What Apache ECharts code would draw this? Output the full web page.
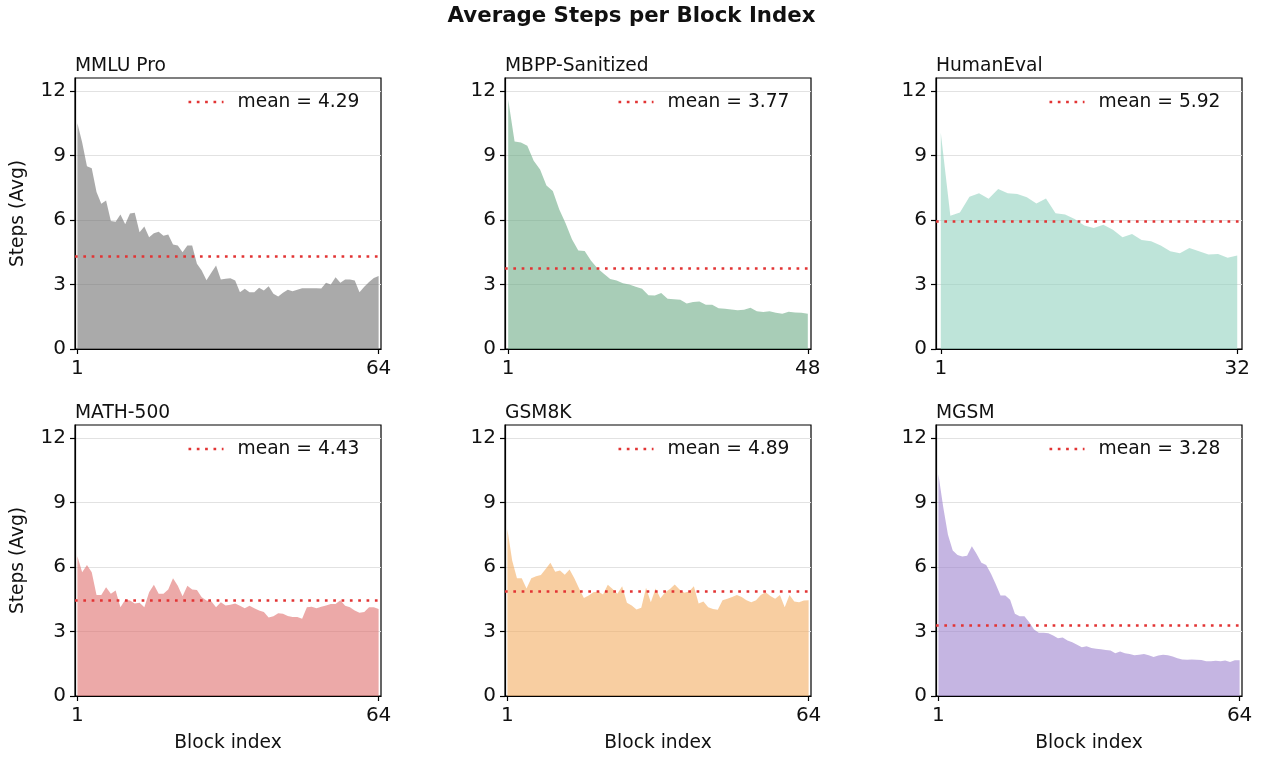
<!DOCTYPE html>
<html>
<head>
<meta charset="utf-8">
<script src="https://cdn.jsdelivr.net/npm/echarts@6/dist/echarts.min.js"></script>
<style>
  html, body { margin: 0; padding: 0; background: #ffffff; }
  #chart { width: 1263px; height: 758px; }
</style>
</head>
<body>
<div id="chart"></div>
<script>
// Average decoding steps for each block, one list per benchmark
const panelTitles = ['MMLU Pro', 'MBPP-Sanitized', 'HumanEval', 'MATH-500', 'GSM8K', 'MGSM'];
const meanValues = [4.29, 3.77, 5.92, 4.43, 4.89, 3.28];
const yTickValues = [0, 3, 6, 9, 12];

const mmluPro = [
  10.5, 9.6, 8.5, 8.4, 7.3, 6.75, 6.9, 5.95, 5.92, 6.25, 5.8, 6.3, 6.34, 5.43, 5.7, 5.19,
  5.38, 5.45, 5.26, 5.32, 4.86, 4.81, 4.5, 4.81, 4.81, 3.96, 3.65, 3.2, 3.55, 3.88, 3.23, 3.27,
  3.29, 3.19, 2.64, 2.8, 2.64, 2.64, 2.85, 2.72, 2.92, 2.57, 2.44, 2.62, 2.75, 2.69, 2.75, 2.83,
  2.83, 2.83, 2.82, 2.81, 3.08, 3.0, 3.34, 3.08, 3.23, 3.23, 3.19, 2.64, 2.9, 3.11, 3.3, 3.39
];
const mbppSanitized = [
  11.6, 9.65, 9.6, 9.45, 8.75, 8.35, 7.6, 7.35, 6.5, 5.85, 5.1, 4.58, 4.56, 4.1, 3.75, 3.5,
  3.25, 3.19, 3.06, 3.0, 2.9, 2.8, 2.5, 2.49, 2.6, 2.34, 2.31, 2.29, 2.11, 2.18, 2.21, 2.06,
  2.06, 1.89, 1.87, 1.84, 1.8, 1.83, 1.92, 1.75, 1.72, 1.75, 1.69, 1.64, 1.73, 1.7, 1.69, 1.64
];
const humanEval = [
  10.05, 6.2, 6.35, 7.08, 7.24, 6.98, 7.44, 7.24, 7.21, 7.05, 6.77, 7.0, 6.31, 6.25, 6.05, 5.74,
  5.63, 5.78, 5.55, 5.19, 5.35, 5.07, 5.01, 4.81, 4.55, 4.45, 4.7, 4.55, 4.39, 4.42, 4.24, 4.35
];
const math500 = [
  6.5, 5.75, 6.09, 5.75, 4.7, 4.7, 5.06, 4.75, 4.9, 4.13, 4.48, 4.44, 4.3, 4.33, 4.13, 4.82,
  5.17, 4.75, 4.75, 4.95, 5.47, 5.13, 4.64, 5.13, 4.95, 4.93, 4.59, 4.44, 4.41, 4.13, 4.36, 4.21,
  4.24, 4.3, 4.2, 4.08, 4.2, 4.08, 3.97, 3.9, 3.65, 3.71, 3.85, 3.82, 3.72, 3.67, 3.67, 3.59,
  4.13, 4.15, 4.08, 4.15, 4.21, 4.28, 4.28, 4.45, 4.2, 4.13, 3.97, 3.87, 3.9, 4.13, 4.13, 4.05
];
const gsm8k = [
  7.75, 6.3, 5.47, 5.47, 5.0, 5.47, 5.57, 5.63, 5.9, 6.19, 5.78, 5.83, 5.64, 5.88, 5.47, 5.0,
  4.56, 4.67, 4.82, 4.86, 4.72, 5.17, 4.98, 4.75, 5.1, 4.33, 4.21, 4.02, 4.1, 5.03, 4.36, 5.0,
  4.55, 4.82, 4.98, 5.18, 4.95, 4.8, 4.86, 5.1, 4.3, 4.39, 4.13, 4.05, 4.01, 4.45, 4.52, 4.6,
  4.7, 4.6, 4.45, 4.36, 4.45, 4.7, 4.82, 4.65, 4.52, 4.7, 4.13, 4.7, 4.39, 4.36, 4.44, 4.45
];
const mgsm = [
  10.31, 8.8, 7.5, 6.76, 6.56, 6.49, 6.52, 6.96, 6.6, 6.19, 6.09, 5.68, 5.2, 4.67, 4.67, 4.48,
  3.82, 3.71, 3.71, 3.43, 3.09, 2.94, 2.94, 2.92, 2.81, 2.69, 2.72, 2.58, 2.5, 2.38, 2.27, 2.31,
  2.23, 2.2, 2.17, 2.14, 2.12, 1.99, 2.07, 1.99, 1.95, 1.9, 1.92, 1.95, 1.89, 1.81, 1.88, 1.92,
  1.89, 1.84, 1.75, 1.7, 1.69, 1.7, 1.68, 1.67, 1.62, 1.62, 1.64, 1.61, 1.65, 1.58, 1.66, 1.66
];
const panelValues = [mmluPro, mbppSanitized, humanEval, math500, gsm8k, mgsm];

// Styling
const fillColors = ['#717171', '#6eac87', '#93d2c0', '#df706e', '#f3ad62', '#9e84cf'];
const fillOpacity = 0.6;
const meanColor = '#e23434';
const textColor = '#111111';
const fontFamily = "'DejaVu Sans', 'Liberation Sans', sans-serif";
const baseFont = 18.67;
const tickFont = 20;

// Layout of the 2 x 3 panel grid (pixels)
const colLefts = [75, 505, 936];
const rowTops = [78, 425];
const plotW = 306;
const plotH = 271;
const yMax = 12.6;

// Legend handle: a short dotted stroke made of square dots
const dottedIcon = 'path://M0,0h2.7v2.7h-2.7z M8.3,0h2.7v2.7h-2.7z M16.6,0h2.7v2.7h-2.7z M25,0h2.7v2.7h-2.7z M33.3,0h1.7v2.7h-1.7z';

const grids = [], xAxes = [], yAxes = [], series = [], titles = [], legends = [];

titles.push({
  text: 'Average Steps per Block Index',
  left: 'center',
  top: 3,
  padding: 0,
  textStyle: { fontFamily, fontSize: 21.3, fontWeight: 'bold', color: textColor, lineHeight: 26 }
});

const axisLineStyle = { color: '#000000', width: 1.2 };

panelValues.forEach((values, k) => {
  const row = Math.floor(k / 3);
  const col = k % 3;
  const left = colLefts[col];
  const top = rowTops[row];
  const n = values.length;
  const meanName = 'mean = ' + meanValues[k].toFixed(2);

  grids.push({
    left: left, top: top, width: plotW, height: plotH,
    show: true, borderColor: '#000000', borderWidth: 1.2,
    backgroundColor: 'transparent'
  });

  titles.push({
    text: panelTitles[k],
    left: left, top: top - 23, padding: 0,
    textStyle: { fontFamily, fontSize: baseFont, fontWeight: 'normal', color: textColor, lineHeight: 22 }
  });

  xAxes.push({
    type: 'value', gridIndex: k, min: 0.5, max: n + 0.5,
    axisLine: { show: true, onZero: false, lineStyle: axisLineStyle },
    axisTick: { show: true, customValues: [1, n], length: 5, lineStyle: axisLineStyle },
    axisLabel: { customValues: [1, n], margin: 10, fontFamily, fontSize: tickFont, color: textColor },
    splitLine: { show: false },
    name: row === 1 ? 'Block index' : '',
    nameLocation: 'middle', nameGap: 38,
    nameTextStyle: { fontFamily, fontSize: baseFont, color: textColor }
  });

  yAxes.push({
    type: 'value', gridIndex: k, min: 0, max: yMax, interval: 3,
    axisLine: { show: true, onZero: false, lineStyle: axisLineStyle },
    axisTick: { show: true, customValues: yTickValues, length: 5, lineStyle: axisLineStyle },
    axisLabel: { customValues: yTickValues, margin: 9, fontFamily, fontSize: tickFont, color: textColor },
    splitLine: { show: true, lineStyle: { color: '#e2e2e2', width: 1.2 } },
    name: col === 0 ? 'Steps (Avg)' : '',
    nameLocation: 'middle', nameGap: 47,
    nameTextStyle: { fontFamily, fontSize: baseFont, color: textColor }
  });

  series.push({
    type: 'line', xAxisIndex: k, yAxisIndex: k,
    data: values.map((v, i) => [i + 1, v]),
    symbol: 'none', silent: true, animation: false,
    color: fillColors[k],
    lineStyle: { width: 0 },
    areaStyle: { color: fillColors[k], opacity: fillOpacity },
    z: 2
  });

  series.push({
    type: 'line', name: meanName, xAxisIndex: k, yAxisIndex: k,
    data: [], symbol: 'none', animation: false,
    color: meanColor,
    markLine: {
      silent: true, symbol: 'none', animation: false,
      label: { show: false },
      lineStyle: { color: meanColor, width: 2.7, type: [2.7, 5.63], cap: 'butt' },
      data: [{ yAxis: meanValues[k] }]
    },
    z: 3
  });

  legends.push({
    data: [meanName],
    left: left + 113.5, top: top + 13,
    padding: 0, itemGap: 0,
    icon: dottedIcon, itemWidth: 35, itemHeight: 2.7,
    selectedMode: false,
    itemStyle: { color: meanColor, borderWidth: 0 },
    textStyle: { fontFamily, fontSize: baseFont, color: textColor, lineHeight: 22, padding: [0, 0, 0, 9] }
  });
});

const chart = echarts.init(document.getElementById('chart'), null, { renderer: 'canvas' });
chart.setOption({
  backgroundColor: '#ffffff',
  animation: false,
  title: titles,
  legend: legends,
  grid: grids,
  xAxis: xAxes,
  yAxis: yAxes,
  series: series
});
</script>
</body>
</html>
